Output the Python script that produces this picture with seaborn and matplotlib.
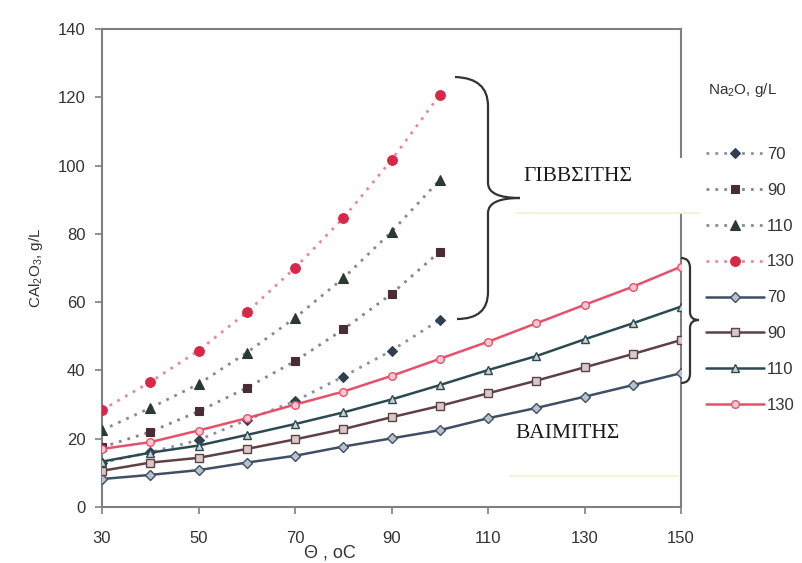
import matplotlib
matplotlib.use("Agg")
import matplotlib.pyplot as plt
import seaborn as sns
import pandas as pd
from matplotlib.path import Path
from matplotlib.patches import PathPatch, Rectangle
from matplotlib.lines import Line2D

# ---------------- data ----------------
temp_gibbsite = [30, 40, 50, 60, 70, 80, 90, 100]
temp_boehmite = [30, 40, 50, 60, 70, 80, 90, 100, 110, 120, 130, 140, 150]

gib_70 = [13.0, 16.0, 19.6, 25.5, 31.0, 38.2, 45.8, 54.8]
gib_90 = [17.5, 22.0, 28.0, 34.9, 42.7, 52.0, 62.4, 74.8]
gib_110 = [22.5, 29.0, 36.0, 45.2, 55.4, 67.0, 80.6, 95.8]
gib_130 = [28.4, 36.6, 45.8, 57.0, 70.0, 84.6, 101.6, 120.7]

boe_70 = [8.2, 9.4, 10.8, 13.0, 15.0, 17.7, 20.1, 22.5, 26.0, 29.0, 32.3, 35.7, 39.2]
boe_90 = [10.6, 13.0, 14.4, 17.0, 19.8, 22.8, 26.3, 29.6, 33.3, 37.0, 40.9, 44.8, 48.9]
boe_110 = [13.3, 15.9, 18.0, 21.1, 24.3, 27.7, 31.5, 35.7, 40.1, 44.2, 49.1, 53.8, 58.7]
boe_130 = [17.0, 19.0, 22.4, 26.0, 30.0, 33.8, 38.4, 43.4, 48.4, 53.8, 59.2, 64.5, 70.4]

series_labels = ["70", "90", "110", "130"]
x_ticks = [30, 50, 70, 90, 110, 130, 150]
y_ticks = [0, 20, 40, 60, 80, 100, 120, 140]

# ---------------- style ----------------
sns.set_style("white")
plt.rcParams["font.family"] = ["Liberation Sans", "DejaVu Sans"]
plt.rcParams["mathtext.fontset"] = "custom"
plt.rcParams["mathtext.rm"] = "Liberation Sans"
plt.rcParams["mathtext.it"] = "Liberation Sans:italic"
plt.rcParams["xtick.bottom"] = True
plt.rcParams["ytick.left"] = True
plt.rcParams["xtick.major.size"] = 5
plt.rcParams["ytick.major.size"] = 5
plt.rcParams["xtick.major.width"] = 1.2
plt.rcParams["ytick.major.width"] = 1.2

W, H = 802, 563
fig = plt.figure(figsize=(W / 100, H / 100), dpi=100)
fig.patch.set_facecolor("white")
ax = fig.add_axes([102 / W, 1 - 507 / H, (681 - 102) / W, (507 - 29) / H])
ax.set_facecolor("white")

gib_sets = [gib_70, gib_90, gib_110, gib_130]
boe_sets = [boe_70, boe_90, boe_110, boe_130]

gib_style = [
    dict(marker="D", markersize=5.5, color="#8a929a", mfc="#2f4052", mec="#2f4052"),
    dict(marker="s", markersize=6, color="#8e8286", mfc="#4a2c36", mec="#4a2c36"),
    dict(marker="^", markersize=7, color="#858d88", mfc="#2b3a31", mec="#2b3a31"),
    dict(marker="o", markersize=7, color="#e58a98", mfc="#d8284a", mec="#d8284a"),
]
boe_style = [
    dict(marker="D", markersize=5, color="#3e4f66", mfc="#b8c2cc", mec="#3e4f66"),
    dict(marker="s", markersize=5.5, color="#5e4046", mfc="#d8c8c8", mec="#5e4046"),
    dict(marker="^", markersize=6, color="#2c4a52", mfc="#c8d4d6", mec="#2c4a52"),
    dict(marker="o", markersize=5.5, color="#e8506a", mfc="#f4c8d0", mec="#e8506a"),
]

handles = []
for ys, st, lab in zip(gib_sets, gib_style, series_labels):
    df = pd.DataFrame({"T": temp_gibbsite, "C": ys})
    sns.lineplot(data=df, x="T", y="C", ax=ax, marker=st["marker"],
                 markersize=st["markersize"], color=st["color"],
                 markerfacecolor=st["mfc"], markeredgecolor=st["mec"],
                 markeredgewidth=0.8, linestyle=(0, (1, 2.2)), linewidth=2.0,
                 label=lab, zorder=3)
    handles.append(ax.lines[-1])
for ys, st, lab in zip(boe_sets, boe_style, series_labels):
    df = pd.DataFrame({"T": temp_boehmite, "C": ys})
    sns.lineplot(data=df, x="T", y="C", ax=ax, marker=st["marker"],
                 markersize=st["markersize"], color=st["color"],
                 markerfacecolor=st["mfc"], markeredgecolor=st["mec"],
                 markeredgewidth=1.0, linestyle="-", linewidth=1.8,
                 label=lab, zorder=4)
    handles.append(ax.lines[-1])

ax.set_xlim(30, 150)
ax.set_ylim(0, 140)
ax.set_xticks(x_ticks)
ax.set_yticks(y_ticks)
ax.set_xlabel("")
ax.set_ylabel(r"CAl$_\mathrm{2}$O$_\mathrm{3}$, g/L", fontsize=11, color="#333333", labelpad=9)
for s in ax.spines.values():
    s.set_color("#808080")
    s.set_linewidth(1.5)
ax.tick_params(axis="both", which="major", direction="out", length=5, width=1.2,
               color="#808080", labelsize=12, labelcolor="#333333",
               bottom=True, left=True, top=False, right=False)
ax.tick_params(axis="x", pad=12)
ax.tick_params(axis="y", pad=7)
ax.grid(False)

fig.text(330 / W, 1 - 553 / H, "Θ , oC", fontsize=13, color="#333333",
         ha="center", va="center")

# legend
fig.text(742 / W, 1 - 90 / H, r"Na$_\mathrm{2}$O, g/L", fontsize=11, color="#333333",
         ha="center", va="center")
leg = ax.legend(handles, [h.get_label() for h in handles], loc="upper left",
                bbox_to_anchor=(706 / W, 1 - 147 / H), bbox_transform=fig.transFigure,
                frameon=False, fontsize=12, handlelength=3.5, handletextpad=0.15,
                labelspacing=1.25, borderpad=0, borderaxespad=0)
for t in leg.get_texts():
    t.set_color("#333333")


def px(x, y):
    return (x / W, 1 - y / H)


def brace(pts_codes):
    verts = [px(*p) for p, _ in pts_codes]
    codes = [c for _, c in pts_codes]
    patch = PathPatch(Path(verts, codes), facecolor="none", edgecolor="#333333",
                      linewidth=1.6, transform=fig.transFigure, zorder=5)
    fig.add_artist(patch)


M, L, C = Path.MOVETO, Path.LINETO, Path.CURVE3
brace([((455, 77), M), ((488, 78), C), ((488, 106), C), ((488, 183), L),
       ((488, 198), C), ((520, 198), C), ((488, 198), C), ((488, 213), C),
       ((488, 292), L), ((488, 319), C), ((457, 319), C)])
brace([((681, 258), M), ((690, 258), C), ((690, 268), C), ((690, 312), L),
       ((690, 320), C), ((699, 320), C), ((690, 320), C), ((690, 328), C),
       ((690, 374), L), ((690, 383), C), ((681, 383), C)])

# label boxes (above spines, below data lines)
for (x0, y0, x1, y1) in [(517, 158, 700, 213), (510, 405, 678, 476)]:
    ax.add_patch(Rectangle(px(x0, y1), (x1 - x0) / W, (y1 - y0) / H,
                           transform=fig.transFigure, facecolor="white",
                           edgecolor="none", zorder=2.6, clip_on=False))
    ax.add_line(Line2D([x0 / W, x1 / W], [1 - y1 / H, 1 - y1 / H],
                       transform=fig.transFigure, color="#f5f0d2", linewidth=1.2,
                       zorder=2.6, clip_on=False))
fig.text(578 / W, 1 - 177 / H, "ΓΙΒΒΣΙΤΗΣ", fontsize=15.5, family="Liberation Serif",
         color="#1a1a1a", ha="center", va="center", zorder=6)
fig.text(568 / W, 1 - 433 / H, "ΒΑΙΜΙΤΗΣ", fontsize=15.5, family="Liberation Serif",
         color="#1a1a1a", ha="center", va="center", zorder=6)

fig.savefig("out.png", dpi=100, facecolor="white")
